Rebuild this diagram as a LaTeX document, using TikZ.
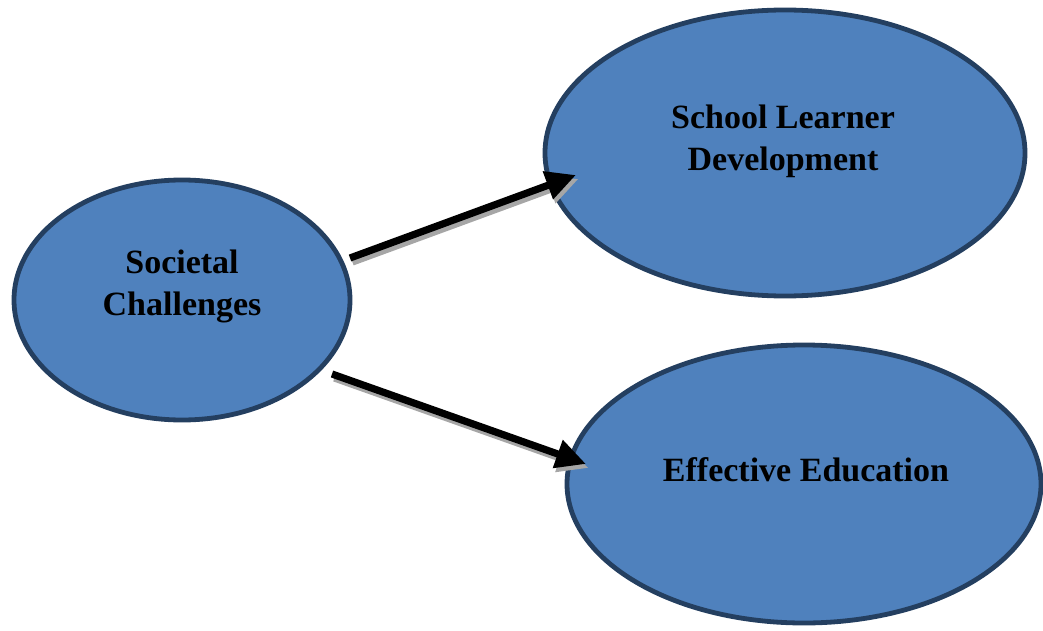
\documentclass[tikz,border=0pt]{standalone}
\usepackage{fontspec}
\setmainfont{Liberation Serif}
\usepackage{tikz}
\usetikzlibrary{arrows.meta,shapes.geometric}

\definecolor{ovalfill}{HTML}{4F81BD}
\definecolor{ovalline}{HTML}{243F60}
\definecolor{shadowgray}{HTML}{A6A6A6}

\begin{document}
\begin{tikzpicture}[x=0.5pt,y=-0.5pt]
 \tikzstyle{oval} = [ellipse,draw=ovalline,fill=ovalfill,line width=2.4pt,inner sep=0pt]
 \tikzstyle{txt} = [align=center,inner sep=0pt,font=\bfseries\fontsize{17}{21}\selectfont]
 \tikzstyle{l} = [draw,line width=3.6pt,-{Triangle[length=15pt,width=14pt]}]
 \tikzstyle{s} = [draw=shadowgray,line width=3.6pt,-{Triangle[length=15pt,width=14pt]},transform canvas={shift={(1.2pt,-2pt)}}]
 \useasboundingbox (0,0) rectangle (1043,631);
 \draw
 (182,300) node [oval,minimum width=168pt,minimum height=120pt] (Soc) {}
 (Soc) ++(603,-147) node [oval,minimum width=240pt,minimum height=143pt] (SLD) {}
 (Soc) ++(622,184) node [oval,minimum width=237pt,minimum height=139pt] (EE) {}
 ;
 \node [txt] (SocT) at ([yshift=7pt]Soc.center) {Societal\\Challenges};
 \node [txt] (SLDT) at ([yshift=6pt,xshift=-1pt]SLD.center) {School Learner\\Development};
 \node [txt] (EET) at ([yshift=7pt,xshift=1pt]EE.center) {Effective Education};
 \coordinate (SocA) at (350,258);
 \coordinate (SocB) at (332,374);
 \coordinate (SLDA) at (576,175);
 \coordinate (EEA) at (586,464);
 \path [s] (SocA) -- (SLDA);
 \path [s] (SocB) -- (EEA);
 \path [l] (SocA) -- (SLDA);
 \path [l] (SocB) -- (EEA);
\end{tikzpicture}
\end{document}
